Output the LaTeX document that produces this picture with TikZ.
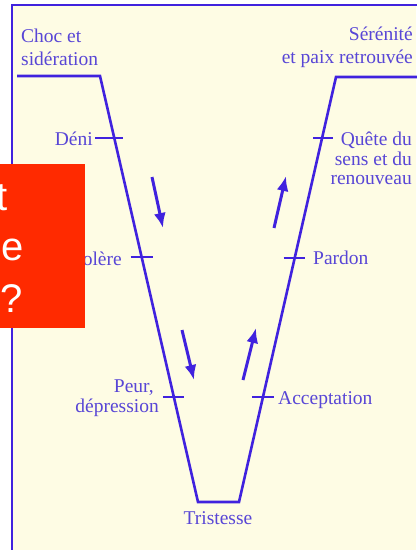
\documentclass[tikz,border=0pt]{standalone}
\usepackage{fontspec}
\setmainfont{Liberation Serif}
\newfontfamily\redfont{Liberation Sans}
\usetikzlibrary{arrows.meta}
\definecolor{bg}{RGB}{254,252,228}
\definecolor{vline}{RGB}{64,34,222}
\definecolor{vtext}{RGB}{88,70,214}
\definecolor{redbox}{RGB}{255,42,0}
\begin{document}
\begin{tikzpicture}[x=1pt,y=-1pt,
  vpath/.style={draw=vline,line width=2.6pt,line join=miter},
  tickmark/.style={draw=vline,line width=2.4pt},
  lbl/.style={text=vtext,inner sep=0pt,font=\fontsize{19.5}{20}\selectfont},
  flow/.style={draw=vline,line width=3pt,-{Latex[length=15pt,width=12pt]}},
  redtxt/.style={text=white,inner sep=0pt,font=\redfont\fontsize{40}{48}\selectfont}]
\useasboundingbox (0,0) rectangle (416,550);
\fill[white] (0,0) rectangle (416,550);
\fill[bg] (12,5) rectangle (416,550);
\draw[vline,line width=1.5pt] (12,551) -- (12,5) -- (417,5);

\coordinate (A) at (17,76);
\coordinate (B) at (100,76);
\coordinate (C) at (198,502);
\coordinate (D) at (239,502);
\coordinate (E) at (336,77);
\coordinate (F) at (418,77);
\draw[vpath] (A) -- (B) -- (C) -- (D) -- (E) -- (F);

\path (B) -- (C) coordinate[pos=0.1455] (tDeni) coordinate[pos=0.425] (tColere) coordinate[pos=0.7535] (tPeur);
\path (D) -- (E) coordinate[pos=0.247] (tAccept) coordinate[pos=0.574] (tPardon) coordinate[pos=0.8565] (tQuete);
\draw[tickmark] ([xshift=-19pt]tDeni) -- ([xshift=9pt]tDeni);
\draw[tickmark] ([xshift=-11pt]tColere) -- ([xshift=11pt]tColere);
\draw[tickmark] ([xshift=-11pt]tPeur) -- ([xshift=10pt]tPeur);
\draw[tickmark] ([xshift=-11pt]tAccept) -- ([xshift=11pt]tAccept);
\draw[tickmark] ([xshift=-11pt]tPardon) -- ([xshift=10pt]tPardon);
\draw[tickmark] ([xshift=-9pt]tQuete) -- ([xshift=11pt]tQuete);

\node[lbl,anchor=base west] (choc1) at (21,42) {Choc et};
\node[lbl,anchor=base west] (choc2) at (21,65) {sidération};
\node[lbl,anchor=base east] (seren1) at (413,40) {Sérénité};
\node[lbl,anchor=base east] (seren2) at (413,63) {et paix retrouvée};
\node[lbl,anchor=base east] (deni) at (93,145) {Déni};
\node[lbl,anchor=base east] (colere) at (122,265) {Colère};
\node[lbl,anchor=base east] (peur1) at (154,392) {Peur,};
\node[lbl,anchor=base east] (peur2) at (159,412) {dépression};
\node[lbl,anchor=base] (tristesse) at (218,524) {Tristesse};
\node[lbl,anchor=base west] (accept) at (278,404) {Acceptation};
\node[lbl,anchor=base west] (pardon) at (313,264) {Pardon};
\node[lbl,anchor=base east] (quete1) at (412,145) {Quête du};
\node[lbl,anchor=base east] (quete2) at (412,165) {sens et du};
\node[lbl,anchor=base east] (quete3) at (412,184) {renouveau};

\coordinate (a1s) at (152,177); \coordinate (a1e) at (163,228);
\coordinate (a2s) at (182,330); \coordinate (a2e) at (194,380);
\coordinate (a3s) at (274,228); \coordinate (a3e) at (286,176);
\coordinate (a4s) at (243,380); \coordinate (a4e) at (256,328);
\draw[flow] (a1s) -- (a1e);
\draw[flow] (a2s) -- (a2e);
\draw[flow] (a3s) -- (a3e);
\draw[flow] (a4s) -- (a4e);

\fill[redbox] (0,164) rectangle (85,328);
\begin{scope}
\clip (0,164) rectangle (85,328);
\node[redtxt,anchor=base east] (rt) at (8,210) {t};
\node[redtxt,anchor=base west] (re) at (1,260) {e};
\node[redtxt,anchor=base west] (rq) at (0,312) {?};
\end{scope}
\end{tikzpicture}
\end{document}
